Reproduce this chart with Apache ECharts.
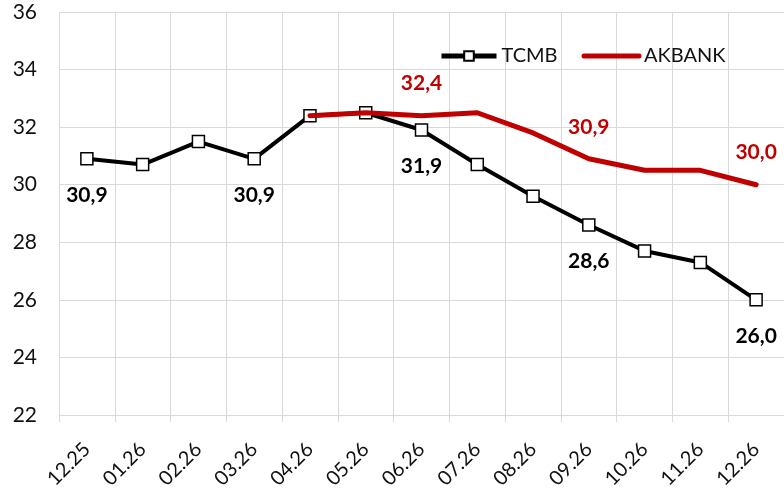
<!DOCTYPE html>
<html>
<head>
<meta charset="utf-8">
<script src="https://cdn.jsdelivr.net/npm/echarts@6/dist/echarts.min.js"></script>
<style>
  html, body { margin: 0; padding: 0; background: #fff; }
  #chart { width: 784px; height: 495px; }
</style>
</head>
<body>
<div id="chart"></div>
<script>
  // 月份
  var categories = ['12.25', '01.26', '02.26', '03.26', '04.26', '05.26', '06.26',
    '07.26', '08.26', '09.26', '10.26', '11.26', '12.26']
  // TCMB 预期
  var tcmb = [30.9, 30.7, 31.5, 30.9, 32.4, 32.5, 31.9, 30.7, 29.6, 28.6, 27.7, 27.3, 26.0]
  // AKBANK 预期 (04.26 起)
  var akbank = [null, null, null, null, 32.4, 32.5, 32.4, 32.5, 31.8, 30.9, 30.5, 30.5, 30.0]
  // 显示数值的点
  var tcmbLabelIdx = [0, 3, 6, 9, 12]
  var akbankLabelIdx = [6, 9, 12]
  var yTicks = { min: 22, max: 36, step: 2 }

  var font = 'Lato, "Noto Sans", sans-serif'
  var red = '#C00000'

  function withLabels(values, idxs) {
    return values.map(function (v, i) {
      if (idxs.indexOf(i) < 0) return v
      return { value: v, label: { show: true } }
    })
  }
  function fmt(p) {
    return p.value.toFixed(1).replace('.', ',')
  }

  var chart = echarts.init(document.getElementById('chart'))
  chart.setOption({
    animation: false,
    backgroundColor: '#fff',
    grid: { left: 59, right: -2, top: 12, bottom: 80 },
    legend: {
      top: 41,
      left: 434,
      itemWidth: 55,
      itemHeight: 12,
      itemGap: 24,
      textStyle: { fontFamily: font, fontSize: 20, color: '#111' },
      data: [
        { name: 'TCMB', lineStyle: { width: 5 } },
        { name: 'AKBANK', lineStyle: { width: 5 }, itemStyle: { opacity: 0 } }
      ]
    },
    xAxis: {
      type: 'category',
      data: categories,
      boundaryGap: true,
      axisLine: { show: true, lineStyle: { color: '#d9d9d9', width: 1 } },
      axisTick: { show: true, length: 7, lineStyle: { color: '#d9d9d9' } },
      splitLine: { show: true, lineStyle: { color: '#d9d9d9', width: 1 } },
      axisLabel: {
        rotate: 45,
        margin: 31,
        fontFamily: font,
        fontSize: 20,
        color: '#111'
      }
    },
    yAxis: {
      type: 'value',
      min: yTicks.min,
      max: yTicks.max,
      interval: yTicks.step,
      axisLine: { show: false },
      axisTick: { show: false },
      splitLine: { lineStyle: { color: '#d9d9d9', width: 1 } },
      axisLabel: { margin: 22, fontFamily: font, fontSize: 21, color: '#111' }
    },
    series: [
      {
        name: 'TCMB',
        type: 'line',
        data: withLabels(tcmb, tcmbLabelIdx),
        symbol: 'rect',
        symbolSize: 12,
        z: 2,
        lineStyle: { color: '#000', width: 4 },
        itemStyle: { color: '#fff', borderColor: '#000', borderWidth: 1.5 },
        label: {
          show: false,
          position: 'bottom',
          distance: 19,
          fontFamily: font,
          fontSize: 21,
          fontWeight: 'bold',
          color: '#000',
          formatter: fmt
        }
      },
      {
        name: 'AKBANK',
        type: 'line',
        data: withLabels(akbank, akbankLabelIdx),
        symbol: 'circle',
        symbolSize: 1,
        z: 3,
        lineStyle: { color: red, width: 5, cap: 'round' },
        itemStyle: { color: 'rgba(0,0,0,0)' },
        label: {
          show: false,
          position: 'top',
          distance: 21,
          fontFamily: font,
          fontSize: 21,
          fontWeight: 'bold',
          color: red,
          formatter: fmt
        }
      }
    ]
  })
</script>
</body>
</html>
